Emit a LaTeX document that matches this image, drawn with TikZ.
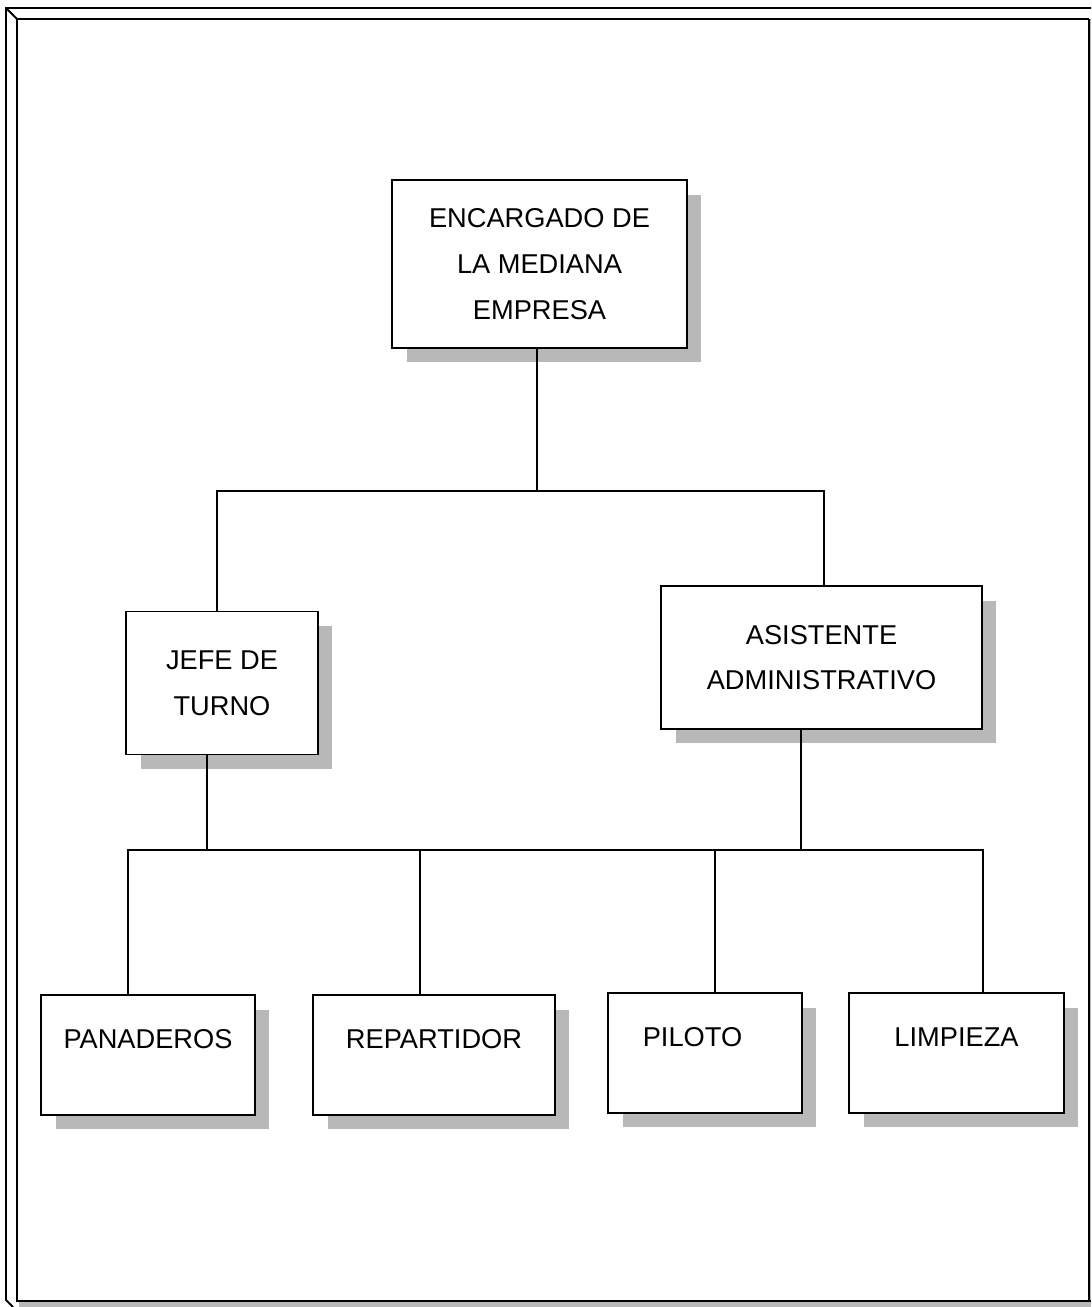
\documentclass[tikz,border=0pt]{standalone}
\usepackage{fontspec}
\setmainfont{Liberation Sans}
\usetikzlibrary{shadows}

\tikzset{
  puesto/.style={draw, line width=1.1pt, fill=white, align=center,
    font=\fontsize{15.5}{26}\selectfont,
    drop shadow={shadow xshift=0.29cm, shadow yshift=-0.29cm, fill=black!28, opacity=1}},
  base/.style={puesto, text height=0.4cm, text depth=0.68cm},
  linea/.style={line width=1.1pt}
}

\begin{document}
\begin{tikzpicture}[x=0.02cm, y=-0.02cm]
      \useasboundingbox (0, 0) rectangle (1091, 1307);

      % marco de la pagina
      \draw[line width=1.1pt] (1091, 8) -- (6, 8) -- (6, 1300) -- (13, 1307);
      \draw[line width=1.1pt] (6, 8) -- (17, 19);
      \fill[black!28] (19, 1301) rectangle (1091, 1307);
      \fill[black!28] (1089, 19) rectangle (1091, 1301);
      \draw[line width=1.1pt] (1089, 19) -- (17, 19) -- (17, 1301) -- (1091, 1301);
      \draw[line width=1.1pt] (1089, 19) -- (1089, 1301);

      \coordinate (B1) at (537, 491);
      \coordinate (L1) at (217, 491);
      \coordinate (R1) at (824, 491);
      \coordinate (L2) at (207, 850);
      \coordinate (R2) at (801, 850);
      \coordinate (P2) at (128, 850);
      \coordinate (Q2) at (420, 850);
      \coordinate (S2) at (715, 850);
      \coordinate (T2) at (983, 850);

      \node[puesto, minimum width=5.9cm, minimum height=3.36cm] (enc) at (539.5, 264) {ENCARGADO DE\\LA MEDIANA\\EMPRESA};
      \node[puesto, minimum width=3.84cm, minimum height=2.86cm] (jefe) at (222, 683) {JEFE DE\\TURNO};
      \node[puesto, minimum width=6.42cm, minimum height=2.86cm] (asis) at (821.5, 657.5) {ASISTENTE\\ADMINISTRATIVO};

      \node[base, minimum width=4.28cm, minimum height=2.4cm] (pan) at (148, 1055) {PANADEROS};
      \node[base, minimum width=4.84cm, minimum height=2.4cm] (rep) at (434, 1055) {REPARTIDOR};
      \node[base, minimum width=3.88cm, minimum height=2.4cm] (pil) at (705, 1053) {\hspace*{-0.5cm}PILOTO};
      \node[base, minimum width=4.3cm, minimum height=2.4cm] (lim) at (956.5, 1053) {LIMPIEZA};

      \draw[linea] (enc.south -| B1) -- (B1);
      \draw[linea] (jefe.north -| L1) -- (L1) -- (R1) -- (asis.north -| R1);
      \draw[linea] (jefe.south -| L2) -- (L2);
      \draw[linea] (asis.south -| R2) -- (R2);
      \draw[linea] (pan.north -| P2) -- (P2) -- (T2) -- (lim.north -| T2);
      \draw[linea] (rep.north -| Q2) -- (Q2);
      \draw[linea] (pil.north -| S2) -- (S2);
    \end{tikzpicture}
\end{document}
